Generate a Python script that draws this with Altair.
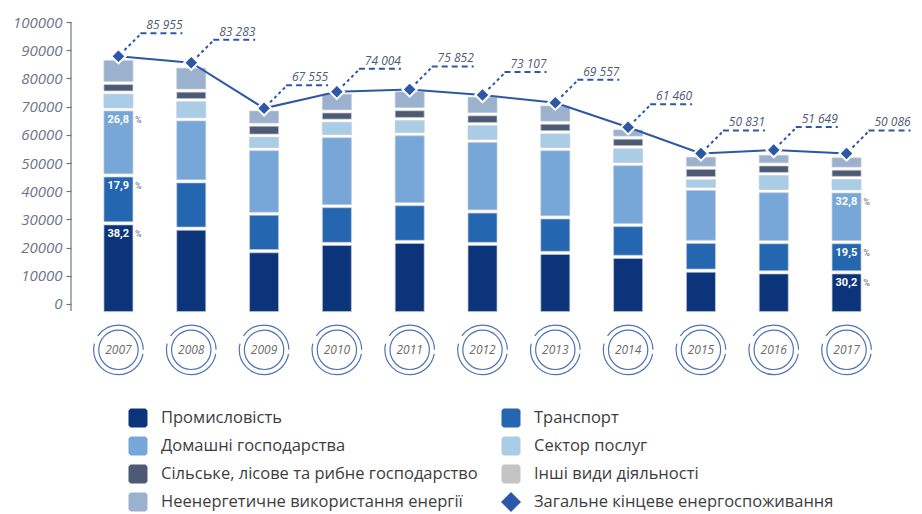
import altair as alt
import pandas as pd

# ---------------- data ----------------
years = [2007, 2008, 2009, 2010, 2011, 2012, 2013, 2014, 2015, 2016, 2017]
industry   = [31900, 30000, 22000, 24600, 25300, 24600, 21400, 20000, 15100, 14500, 14500]
transport  = [17000, 16800, 13300, 13400, 13400, 11500, 12600, 11300, 10200, 10700, 10700]
households = [23400, 22000, 22900, 24800, 24800, 25000, 24200, 21600, 18800, 18100, 18000]
services   = [6000, 6800, 4800, 5500, 5400, 6000, 6000, 6000, 3800, 6100, 4800]
agri       = [3400, 3400, 3900, 3300, 3500, 3500, 3400, 3400, 3700, 3400, 3300]
nonenergy  = [8500, 8500, 5400, 6700, 6700, 6600, 6500, 3300, 4300, 3800, 4400]
diamond_level = [87900, 85600, 69400, 75300, 76100, 74100, 71400, 62700, 53400, 54600, 53400]
total_labels = [85955, 83283, 67555, 74004, 75852, 73107, 69557, 61460, 50831, 51649, 50086]

pct_years = [2007, 2017]
pct_industry = ["38,2", "30,2"]
pct_transport = ["17,9", "19,5"]
pct_households = ["26,8", "32,8"]

y_ticks = [0, 10000, 20000, 30000, 40000, 50000, 60000, 70000, 80000, 90000, 100000]

sector_names = ["Промисловість", "Транспорт", "Домашні господарства", "Сектор послуг",
                "Сільське, лісове та рибне господарство", "Неенергетичне використання енергії"]
sector_colors = ["#0b347a", "#2566b0", "#77a7d9", "#a9cde6", "#4e5a74", "#9cb1cd"]
series = [industry, transport, households, services, agri, nonenergy]

legend_labels = ["Промисловість", "Транспорт",
                 "Домашні господарства", "Сектор послуг",
                 "Сільське, лісове та рибне господарство", "Інші види діяльності",
                 "Неенергетичне використання енергії", "Загальне кінцеве енергоспоживання"]
legend_colors = ["#0b347a", "#2566b0", "#77a7d9", "#a9cde6", "#4e5a74", "#c4c4c4", "#9cb1cd", "#2c58a6"]
legend_col = [0, 1, 0, 1, 0, 1, 0, 1]
legend_row = [0, 0, 1, 1, 2, 2, 3, 3]

BLUE = "#2c58a6"
RING = "#4f73b3"
AXIS_GRAY = "#6d7689"
BASE = -3300          # bars start slightly below the zero tick, as in the picture
RING_LEVEL = -16300   # vertical level of the year badges

SOFT_SQ = "M-0.78,-1H0.78L1,-0.78V0.78L0.78,1H-0.78L-1,0.78V-0.78Z"
legend_shapes = [SOFT_SQ] * 7 + ["diamond"]
legend_sizes = [361] * 7 + [400]

# ---------------- tables ----------------
rows = []
for i, yr in enumerate(years):
    cum = BASE
    for name, vals in zip(sector_names, series):
        rows.append({"year": yr, "sector": name, "start": cum, "end": cum + vals[i]})
        cum += vals[i]
bars_df = pd.DataFrame(rows)

pct_rows = []
for j, yr in enumerate(pct_years):
    for name, labs in zip(sector_names[:3], [pct_industry, pct_transport, pct_households]):
        end = bars_df[(bars_df.year == yr) & (bars_df.sector == name)].end.iloc[0]
        pct_rows.append({"year": yr, "top": float(end), "label": labs[j]})
pct_df = pd.DataFrame(pct_rows)

tot_df = pd.DataFrame({
    "year": years,
    "level": diamond_level,
    "label": [f"{v:,}".replace(",", " ") for v in total_labels],
})
ring_df = pd.DataFrame({"year": years, "label": [str(y) for y in years],
                        "lvl": [RING_LEVEL] * len(years)})
axis_df = pd.DataFrame({"lo": [-2500], "hi": [100000]})

xs = alt.Scale(domain=[2006.417, 2017.583], nice=False, zero=False)
ys = alt.Scale(domain=[-27000, 105000], nice=False, zero=False)

X = alt.X("year:Q", scale=xs, axis=None)
y_axis = alt.Axis(
    values=y_ticks, format="d", title=None, domain=False, grid=False,
    tickSize=5, tickColor=AXIS_GRAY, tickWidth=1.2,
    labelFont="Open Sans", labelFontStyle="italic", labelFontSize=15,
    labelColor=AXIS_GRAY, labelPadding=4, minExtent=63, maxExtent=63)

axis_line = alt.Chart(axis_df).mark_rule(color=AXIS_GRAY, strokeWidth=1.2).encode(
    x=alt.value(0),
    y=alt.Y("lo:Q", scale=ys, axis=y_axis),
    y2="hi:Q",
)

bars = alt.Chart(bars_df).mark_bar(
    width=29, yOffset=1.6, y2Offset=-1.6, stroke="#c3c9d4", strokeWidth=0.7
).encode(
    x=X,
    y=alt.Y("end:Q", scale=ys, axis=y_axis),
    y2="start:Q",
    color=alt.Color("sector:N", scale=alt.Scale(domain=sector_names, range=sector_colors), legend=None),
)

pct_text = alt.Chart(pct_df).mark_text(
    align="left", baseline="middle", dx=-11, dy=11, font="Roboto", fontWeight="bold",
    fontSize=11, color="white"
).encode(x=X, y=alt.Y("top:Q", scale=ys, axis=y_axis), text="label:N")

pct_sign = alt.Chart(pct_df).mark_text(
    align="center", baseline="middle", dx=20, dy=11, font="Roboto", fontWeight="bold",
    fontSize=9, color="#8a8f99", text="%"
).encode(x=X, y=alt.Y("top:Q", scale=ys, axis=y_axis))

line = alt.Chart(tot_df).mark_line(color=BLUE, strokeWidth=2).encode(
    x=X, y=alt.Y("level:Q", scale=ys, axis=y_axis))

diag = alt.Chart(tot_df).mark_rule(
    color=BLUE, strokeWidth=2, strokeDash=[3, 3],
    xOffset=6, yOffset=-6, x2Offset=22, y2Offset=-22
).encode(x=X, x2="year:Q", y=alt.Y("level:Q", scale=ys, axis=y_axis), y2="level:Q")

horiz = alt.Chart(tot_df).mark_rule(
    color=BLUE, strokeWidth=2, strokeDash=[6, 4],
    xOffset=22, yOffset=-23, x2Offset=64, y2Offset=-23
).encode(x=X, x2="year:Q", y=alt.Y("level:Q", scale=ys, axis=y_axis), y2="level:Q")

tot_text = alt.Chart(tot_df).mark_text(
    dx=46, dy=-31, align="center", baseline="middle", font="Open Sans",
    fontStyle="italic", fontSize=12, color="#4d5a75"
).encode(x=X, y=alt.Y("level:Q", scale=ys, axis=y_axis), text="label:N")

diamonds = alt.Chart(tot_df).mark_point(
    shape="diamond", filled=True, size=210, fill=BLUE, stroke="white",
    strokeWidth=2, opacity=1
).encode(x=X, y=alt.Y("level:Q", scale=ys, axis=y_axis))

ring_outer = alt.Chart(ring_df).mark_point(
    shape="circle", filled=False, size=2463, stroke=RING, strokeWidth=1.2,
    strokeDash=[79.7, 8.3], strokeDashOffset=83.85, opacity=1
).encode(x=X, y=alt.Y("lvl:Q", scale=ys, axis=y_axis))
ring_inner = alt.Chart(ring_df).mark_point(
    shape="circle", filled=False, size=1548, stroke=RING, strokeWidth=1.2, opacity=1
).encode(x=X, y=alt.Y("lvl:Q", scale=ys, axis=y_axis))
ring_text = alt.Chart(ring_df).mark_text(
    font="Open Sans", fontStyle="italic", fontSize=12, color="#6b6b6b",
    baseline="middle", align="center"
).encode(x=X, y=alt.Y("lvl:Q", scale=ys, axis=y_axis), text="label:N")

main = alt.layer(
    axis_line, bars, pct_text, pct_sign, line, diag, horiz, tot_text, diamonds,
    ring_outer, ring_inner, ring_text
).properties(width=823, height=372)

# ---------------- legend ----------------
leg_df = pd.DataFrame({
    "label": legend_labels, "color": legend_colors, "col": legend_col,
    "row": legend_row, "shape": legend_shapes, "sz": legend_sizes,
})
lx = alt.X("col:Q", scale=alt.Scale(domain=[-0.1796, 2.0268], nice=False, zero=False), axis=None)
ly = alt.Y("row:Q", scale=alt.Scale(domain=[-0.5, 3.5], nice=False, zero=False, reverse=True), axis=None)

leg_sym = alt.Chart(leg_df).mark_point(filled=True, opacity=1).encode(
    x=lx, y=ly,
    color=alt.Color("color:N", scale=None),
    shape=alt.Shape("shape:N", scale=None),
    size=alt.Size("sz:Q", scale=None),
)
leg_txt = alt.Chart(leg_df).mark_text(
    align="left", baseline="middle", dx=23, font="Open Sans", fontSize=16.5, color="#3d3d3d"
).encode(x=lx, y=ly, text="label:N")

legend = alt.layer(leg_sym, leg_txt).properties(width=823, height=112)

chart = alt.vconcat(main, legend, spacing=24).properties(
    padding={"left": 0, "top": 0, "right": 0, "bottom": 0}
).configure_view(stroke=None)

chart.save("out.html", embed_options={"renderer": "svg", "actions": False})
